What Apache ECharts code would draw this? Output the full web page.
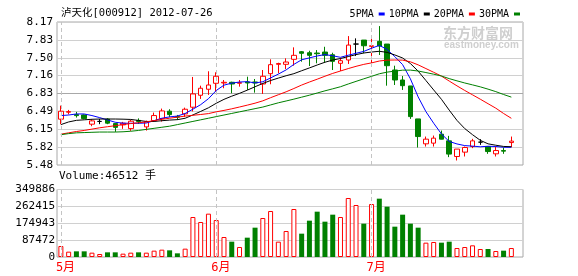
<!DOCTYPE html>
<html><head><meta charset="utf-8">
<script src="https://cdn.jsdelivr.net/npm/echarts@6/dist/echarts.min.js"></script>
<style>html,body{margin:0;padding:0;background:#fff}#c{width:578px;height:276px}</style>
</head><body><div id="c"></div>
<script>
const dates = [
'2012-05-04','2012-05-07','2012-05-08','2012-05-09','2012-05-10','2012-05-11','2012-05-14','2012-05-15','2012-05-16','2012-05-17',
'2012-05-18','2012-05-21','2012-05-22','2012-05-23','2012-05-24','2012-05-25','2012-05-28','2012-05-29','2012-05-30','2012-05-31',
'2012-06-01','2012-06-04','2012-06-05','2012-06-06','2012-06-07','2012-06-08','2012-06-11','2012-06-12','2012-06-13','2012-06-14',
'2012-06-15','2012-06-18','2012-06-19','2012-06-20','2012-06-21','2012-06-25','2012-06-26','2012-06-27','2012-06-28','2012-06-29',
'2012-07-02','2012-07-03','2012-07-04','2012-07-05','2012-07-06','2012-07-09','2012-07-10','2012-07-11','2012-07-12','2012-07-13',
'2012-07-16','2012-07-17','2012-07-18','2012-07-19','2012-07-20','2012-07-23','2012-07-24','2012-07-25','2012-07-26'];
const openP = [6.342,6.473,6.428,6.422,6.248,6.300,6.342,6.259,6.235,6.165,
6.319,6.197,6.315,6.353,6.492,6.390,6.441,6.567,6.792,6.905,
7.017,7.023,7.036,7.017,7.042,7.042,7.004,7.198,7.374,7.374,
7.468,7.611,7.592,7.586,7.605,7.554,7.393,7.455,7.755,7.830,
7.712,7.806,7.755,7.267,7.079,6.967,6.347,5.878,5.891,6.060,
5.934,5.640,5.722,5.827,5.910,5.827,5.690,5.752,5.902];
const closeP = [6.492,6.484,6.409,6.353,6.310,6.300,6.267,6.188,6.267,6.304,
6.300,6.291,6.410,6.497,6.428,6.379,6.529,6.817,6.924,6.985,
7.149,7.036,7.004,7.029,7.023,7.023,7.149,7.367,7.389,7.417,
7.543,7.581,7.543,7.573,7.543,7.430,7.442,7.736,7.755,7.723,
7.723,7.718,7.348,7.079,6.972,6.390,6.015,5.966,5.985,5.966,
5.685,5.779,5.809,5.934,5.910,5.733,5.752,5.741,5.929];
const highP = [6.597,6.516,6.479,6.430,6.342,6.347,6.360,6.272,6.291,6.328,
6.357,6.315,6.466,6.541,6.529,6.422,6.559,7.136,6.972,7.243,
7.224,7.079,7.047,7.079,7.141,7.098,7.267,7.468,7.404,7.487,
7.693,7.624,7.629,7.642,7.704,7.592,7.498,7.905,7.862,7.830,
7.918,8.093,7.755,7.348,7.154,6.967,6.347,6.015,6.034,6.128,
6.028,5.779,5.827,5.972,5.966,5.830,5.827,5.809,6.015];
const lowP = [6.248,6.432,6.372,6.342,6.210,6.248,6.248,6.103,6.160,6.122,
6.253,6.128,6.310,6.297,6.379,6.328,6.385,6.488,6.723,6.798,
6.860,6.924,6.830,6.954,6.892,6.841,6.817,6.999,7.205,7.286,
7.348,7.423,7.342,7.393,7.404,7.267,7.248,7.380,7.530,7.581,
7.393,7.549,6.972,6.985,6.892,6.347,5.809,5.827,5.827,5.963,
5.628,5.565,5.640,5.797,5.859,5.690,5.640,5.690,5.816];
const volume = [57018,27645,29373,29373,22461,15550,24189,24189,17278,22461,
24189,22461,32828,38012,34556,19006,43195,207336,181419,224614,
191786,103668,79479,51834,100212,152046,202153,238436,79479,134768,
248803,120946,188330,234981,183147,219431,207336,305821,269537,172780,
274720,302365,260898,157230,219431,172780,152046,74295,77751,74295,
79479,46651,51834,60473,41467,41467,31100,32828,46512];
const ma5 = [6.41,6.42,6.44,6.44,6.410,6.371,6.328,6.284,6.266,6.265,
6.265,6.270,6.314,6.360,6.385,6.401,6.449,6.530,6.615,6.727,
6.881,6.982,7.020,7.041,7.048,7.023,7.046,7.118,7.190,7.269,
7.373,7.459,7.495,7.531,7.557,7.534,7.506,7.545,7.581,7.617,
7.676,7.731,7.653,7.518,7.368,7.101,6.761,6.484,6.266,6.064,
5.923,5.876,5.845,5.835,5.823,5.833,5.828,5.814,5.813];
const ma10 = [6.24,6.29,6.32,6.33,6.34,6.345,6.345,6.345,6.342,6.337,
6.318,6.299,6.299,6.313,6.325,6.333,6.359,6.422,6.488,6.556,
6.641,6.715,6.775,6.828,6.888,6.952,7.014,7.069,7.115,7.159,
7.198,7.253,7.306,7.361,7.413,7.454,7.483,7.520,7.556,7.587,
7.605,7.619,7.599,7.550,7.493,7.389,7.246,7.069,6.892,6.716,
6.512,6.319,6.165,6.050,5.944,5.878,5.852,5.829,5.824];
const ma20 = [6.06,6.085,6.11,6.13,6.155,6.18,6.20,6.22,6.24,6.26,
6.275,6.29,6.315,6.34,6.36,6.38,6.40,6.415,6.43,6.447,
6.480,6.507,6.537,6.571,6.606,6.643,6.687,6.746,6.802,6.857,
6.919,6.984,7.041,7.094,7.150,7.203,7.248,7.294,7.336,7.373,
7.401,7.436,7.453,7.455,7.453,7.421,7.364,7.294,7.224,7.152,
7.059,6.969,6.882,6.800,6.718,6.633,6.549,6.449,6.358];
const ma30 = [6.05,6.07,6.085,6.09,6.095,6.10,6.10,6.10,6.105,6.115,
6.13,6.15,6.17,6.19,6.21,6.24,6.27,6.30,6.33,6.36,
6.39,6.42,6.45,6.48,6.51,6.54,6.57,6.61,6.65,6.684,
6.719,6.756,6.793,6.834,6.875,6.913,6.952,7.004,7.053,7.101,
7.148,7.196,7.227,7.246,7.264,7.265,7.248,7.219,7.188,7.154,
7.105,7.063,7.023,6.987,6.950,6.907,6.860,6.806,6.757];
const priceTickLabels = ['5.48','5.82','6.15','6.49','6.83','7.16','7.50','7.83','8.17'];
const volumeTickLabels = ['0','87472','174943','262415','349886'];
const maNames = ['5PMA','10PMA','20PMA','30PMA'];
const titleText = '泸天化[000912] 2012-07-26';

const MONO = "'DejaVu Sans Mono','Noto Sans CJK SC',monospace";
const UP = '#ff0000', DOWN = '#008000';
const cats = dates.concat(['']);
const candles = dates.map((d, i) => [openP[i], closeP[i], lowP[i], highP[i]]);
const monthStarts = dates.map((d, i) => (i === 0 || d.slice(5, 7) !== dates[i - 1].slice(5, 7)) ? i : -1).filter(i => i >= 0);
const volData = volume.map((v, i) => {
  const up = closeP[i] >= openP[i];
  return { value: v, itemStyle: up ? { color: '#ffffff', borderColor: UP, borderWidth: 1 } : { color: DOWN, borderWidth: 0 } };
});
const pMin = +priceTickLabels[0], pMax = +priceTickLabels[priceTickLabels.length - 1];
const vMax = +volumeTickLabels[volumeTickLabels.length - 1];
const monthLine = {
  silent: true, symbol: ['none', 'none'], label: { show: false }, animation: false,
  lineStyle: { color: '#c4c4c4', type: [4, 3], width: 1 },
  emphasis: { disabled: true },
  data: monthStarts.map(i => ({ xAxis: dates[i] }))
};
const priceSplitColors = priceTickLabels.map((t, i) => i === 4 ? '#a8a8a8' : '#d0d0d0');
const maColors = ['#0000ff', '#000000', '#ff0000', '#008000'];
const maData = [ma5, ma10, ma20, ma30];

const chart = echarts.init(document.getElementById('c'));
chart.setOption({
  animation: false,
  backgroundColor: '#fff',
  title: [
    { text: titleText, left: 61, top: 8, padding: 0, textStyle: { fontSize: 10.5, fontWeight: 'normal', color: '#000', fontFamily: MONO } },
    { text: 'Volume:' + volume[volume.length - 1] + ' 手', left: 59, top: 171, padding: 0, textStyle: { fontSize: 11, fontWeight: 'normal', color: '#000', fontFamily: MONO } }
  ],
  legend: {
    right: 58, top: 9, padding: 0, itemWidth: 6, itemHeight: 3, itemGap: 4, align: 'right', icon: 'rect',
    selectedMode: false, data: maNames,
    textStyle: { fontSize: 10, color: '#000', fontFamily: MONO }
  },
  graphic: [
    { type: 'text', left: 443, top: 26, z: -10, silent: true, style: { text: '东方财富网', fill: '#cfcfcf', font: 'bold 14px "Noto Sans CJK SC"' } },
    { type: 'text', left: 444, top: 40, z: -10, silent: true, style: { text: 'eastmoney.com', fill: '#cfcfcf', font: 'bold 10px "Liberation Sans"' } }
  ],
  grid: [
    { left: 57, top: 22, width: 466, height: 143, show: true, borderColor: '#a8a8a8', borderWidth: 1, backgroundColor: 'transparent' },
    { left: 57, top: 189.5, width: 466, height: 67.5, show: true, borderColor: '#a8a8a8', borderWidth: 1, backgroundColor: 'transparent' }
  ],
  xAxis: [
    { type: 'category', gridIndex: 0, data: cats, boundaryGap: true, axisLine: { show: false }, axisTick: { show: false }, axisLabel: { show: false }, splitLine: { show: false } },
    { type: 'category', gridIndex: 1, data: cats, boundaryGap: true, axisLine: { show: false }, axisTick: { show: false }, splitLine: { show: false },
      axisLabel: { show: true, interval: (i) => monthStarts.indexOf(i) >= 0, formatter: (v) => v ? (+v.slice(5, 7)) + '月' : '',
        color: UP, fontSize: 12, fontFamily: MONO, margin: 5, align: 'left', padding: [0, 0, 0, -5] } }
  ],
  yAxis: [
    { type: 'value', gridIndex: 0, min: pMin, max: pMax, interval: (pMax - pMin) / (priceTickLabels.length - 1),
      axisLine: { show: false }, axisTick: { show: false },
      axisLabel: { formatter: (v, i) => priceTickLabels[i] !== undefined ? priceTickLabels[i] : '', color: '#000', fontSize: 11, fontFamily: MONO, margin: 4 },
      splitLine: { show: true, lineStyle: { color: priceSplitColors, width: 1 } } },
    { type: 'value', gridIndex: 1, min: 0, max: vMax, interval: vMax / (volumeTickLabels.length - 1),
      axisLine: { show: false }, axisTick: { show: false },
      axisLabel: { formatter: (v, i) => volumeTickLabels[i] !== undefined ? volumeTickLabels[i] : '', color: '#000', fontSize: 11, fontFamily: MONO, margin: 2, padding: [6, 0, 0, 0] },
      splitLine: { show: true, lineStyle: { color: '#d0d0d0', width: 1 } } }
  ],
  series: [
    { type: 'candlestick', xAxisIndex: 0, yAxisIndex: 0, data: candles, barWidth: 5, clip: false,
      itemStyle: { color: '#ffffff', color0: DOWN, borderColor: UP, borderColor0: DOWN, borderColorDoji: '#000000', borderWidth: 1 },
      markLine: monthLine, z: 2 },
    ...maData.map((d, k) => ({
      name: maNames[k], type: 'line', xAxisIndex: 0, yAxisIndex: 0, data: d, symbol: 'none', smooth: false,
      lineStyle: { color: maColors[k], width: 1 }, itemStyle: { color: maColors[k] }, z: 3
    })),
    { type: 'bar', xAxisIndex: 1, yAxisIndex: 1, data: volData, barWidth: 5, markLine: monthLine }
  ]
});
</script></body></html>
